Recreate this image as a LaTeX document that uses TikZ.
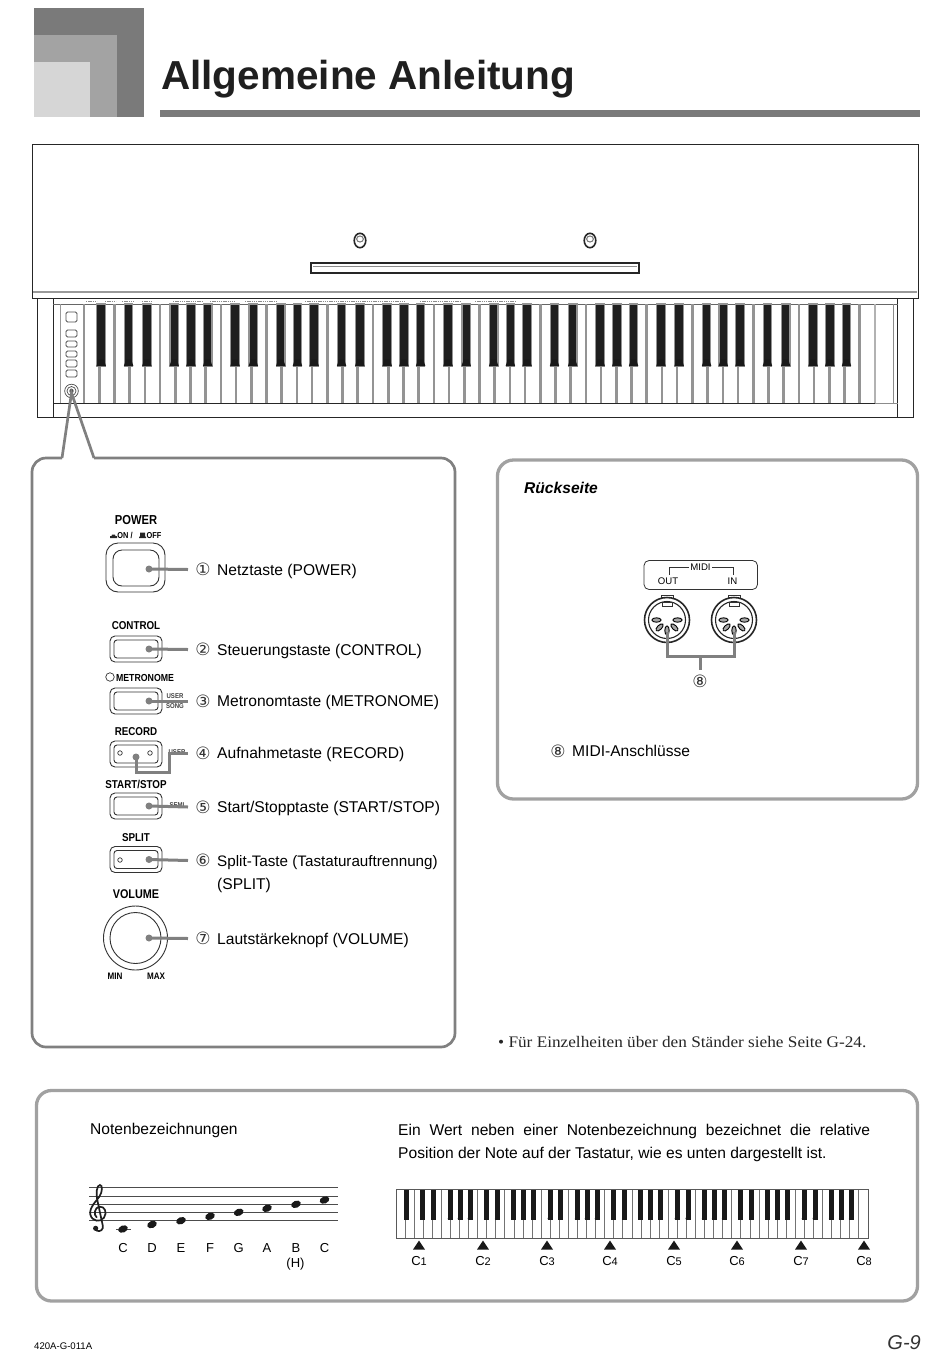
\documentclass[tikz,border=0pt]{standalone}
\usepackage{fontspec}
\setmainfont{Liberation Sans}
\newfontfamily\notefont[FakeStretch=1.07]{Liberation Serif}
\newfontfamily\symfont{DejaVu Sans}
\newfontfamily\panelfont[FakeStretch=0.86]{Liberation Sans Bold}
\definecolor{leadgray}{gray}{0.50}
\definecolor{framegray}{gray}{0.63}
\definecolor{keygray}{gray}{0.58}

\begin{document}
\begin{tikzpicture}[x=1pt, y=-1pt,
    plain/.style={inner sep=0pt, anchor=base west},
    itemtext/.style={plain, font=\fontsize{15.6}{18}\selectfont},
    bottomtext/.style={plain, font=\fontsize{15.6}{23}\selectfont},
    numeral/.style={inner sep=0pt, text=black!80, font=\symfont\fontsize{17}{18}\selectfont},
    panellabel/.style={inner sep=0pt, anchor=base, font=\panelfont\fontsize{#1}{12}\selectfont},
    panellabel/.default=12,
    notelabel/.style={inner sep=0pt, anchor=base, font=\fontsize{13}{15}\selectfont},
    outline/.style={line width=1pt, black!85},
    thinline/.style={line width=0.9pt, black!80},
    roundbox/.style={line width=3.3pt, framegray, rounded corners=15pt},
    leader/.style={line width=3pt, leadgray},
    leaddot/.style={circle, fill=leadgray, inner sep=0pt, minimum size=7pt},
    hole/.style={circle, draw=black!80, line width=0.7pt, fill=white, inner sep=0pt, minimum size=#1},
    whitekey/.style={line width=2.6pt, keygray},
    blackkey/.style={fill=black!88, draw=keygray, line width=1.1pt},
    keytip/.style={fill=black!90}]

  % The keys of a keyboard: #1 = x of the left edge, #2 = width of a white key, #3 = top,
  % #4 = end of the black keys, #5 = bottom, #6 = width of a black key.
  \newcommand{\pianokeys}[6]{%
    \foreach \i in {1,...,51}{
      \pgfmathtruncatemacro{\m}{mod(\i+5,7)}
      \pgfmathsetmacro{\xk}{#1+\i*#2}
      \pgfmathsetmacro{\xb}{\xk+{0,-1,2,0,-1,0.5,2}[\m]*#2/15.2}
      \ifnum\m=0 \draw[whitekey] (\xk,#3) -- (\xk,#5);
      \else\ifnum\m=3 \draw[whitekey] (\xk,#3) -- (\xk,#5);
      \else
        \draw[whitekey] (\xk,#4) -- (\xk,#5);
        \filldraw[blackkey] (\xb-#6/2,#3) rectangle (\xb+#6/2,#4);
        \fill[keytip] (\xb-#6*0.3,#4-#6*0.75) -- (\xb+#6*0.3,#4-#6*0.75) -- (\xb+#6*0.55,#4) -- (\xb-#6*0.55,#4) -- cycle;
      \fi\fi}}
  % A button of the panel with its inner outline: #1 = name, #2 = y of the center.
  \newcommand{\panelbutton}[2]{%
    \draw[thinline, rounded corners=5pt] (110,#2-13) rectangle (162,#2+13);
    \draw[thinline, rounded corners=3pt] (114,#2-9) rectangle (158,#2+9);
    \node[leaddot] (#1dot) at (149,#2) {};}
  % The numbered text of a control: #1 = name, #2 = y of the row, #3 = number, #4 = text.
  \newcommand{\panelitem}[4]{%
    \coordinate (#1end) at (188,#2);
    \node[numeral] (#1num) at (203,#2) {#3};
    \node[itemtext] (#1text) at (217,#2+5.6) {#4};}
  % A MIDI socket: #1 = x of its center.
  \newcommand{\midijack}[1]{%
    \draw[thinline] (#1-6,600) -- (#1-6,595) -- (#1+6,595) -- (#1+6,600);
    \draw[line width=1.6pt, black!85, fill=white] (#1,620) circle (22.5);
    \draw[line width=1.1pt, black!85] (#1,620) circle (18.5);
    \draw[thinline] (#1-5,602) rectangle (#1+5,606);
    \foreach \a in {0,45,90,135,180}{
      \filldraw[shift={(#1,620)}, shift={(\a:10.5)}, rotate=-\a, draw=black, fill=black!35, line width=0.9pt] (0,0) ellipse (4.6pt and 2.2pt);}}

  \useasboundingbox (0,0) rectangle (950,1358);
  % header
  \fill[black!52] (34,8) rectangle (144,117);
  \fill[black!36] (34,35) rectangle (117,117);
  \fill[black!16] (34,62) rectangle (90,117);
  \fill[black!52] (160,110) rectangle (920,117);
  \node[plain, font=\bfseries\fontsize{40.5}{46}\selectfont, text=black!88] (title) at (161,89) {Allgemeine Anleitung};

  % piano body
  \draw[outline] (37,298) -- (37,417) -- (913,417) -- (913,298);
  \draw[outline] (53,298) -- (53,417);
  \draw[outline] (897.5,298) -- (897.5,417);
  \draw[line width=0.7pt, black!60] (53,304) -- (897.5,304);
  \draw[outline] (53,403) -- (875,403);
  \draw[line width=0.8pt, black!45] (875,403) -- (897.5,403);
  \draw[whitekey] (84,304) -- (84,403);
  \draw[line width=2.6pt, black!30] (875,304) -- (875,403);
  \draw[line width=1pt, black!45] (893,304) -- (893,403);
  \draw[line width=0.6pt, black!40] (60,304) -- (60,403);
  \pianokeys{84}{15.21}{304}{366}{403}{8.6}
  \foreach \xa/\xb in {86/97,105/116,122/135,142/152,173/203,210/235,245/277,305/405,420/460,475/515}{
    \draw[line width=0.9pt, black!45, dash pattern=on 1.4pt off 0.8pt] (\xa,301.5) -- (\xb,301.5);}

  % lid with the shelf and the two knobs
  \draw[outline, fill=white] (32,144) rectangle (918,298.5);
  \draw[line width=1.3pt, black!40] (33,292) -- (917,292);
  \draw[line width=1.3pt, black!85] (311,263) rectangle (639,273);
  \draw[line width=0.9pt, black!45] (313,266) -- (637,266);
  \foreach \xa in {360,590}{
    \draw[line width=1.6pt, black!85] (\xa,240.5) ellipse (5.8pt and 7.2pt);
    \draw[line width=1pt, black!55] (\xa,239) ellipse (3.4pt and 3pt);}

  % small panel at the left of the keys
  \foreach \ya/\yb in {312/322,330/337,341/347,351/357,360/367,370/377}{
    \draw[line width=0.9pt, black!70, rounded corners=1.5pt] (66,\ya) rectangle (77,\yb);}
  \draw[line width=0.7pt, black!70] (71.5,391) circle (6.8) circle (4.5);
  \fill[black!70] (71.5,391) circle (2.2);

  % panel with the controls
  \coordinate (callouttip) at (71.5,393);
  \draw[line width=2.7pt, leadgray, rounded corners=14pt] (62,458) -- (32,458) -- (32,1047) -- (455,1047) -- (455,458) -- (94,458);
  \draw[line width=2.7pt, leadgray, line join=miter] (62,458) -- (callouttip) -- (94,458);

  \node[panellabel=13] (powerlabel) at (136,524) {POWER};
  \node[panellabel=8.6] (onlabel) at (125,538) {ON /};
  \node[panellabel=8.6] (offlabel) at (154,538) {OFF};
  \fill[black!85] (110,538) rectangle (117,536) (111.5,536) -- (115.5,536) -- (115,534.5) -- (112,534.5) -- cycle;
  \fill[black!85] (139,538) rectangle (146,536.5) (140,536.5) rectangle (145,532.5);
  \draw[thinline, rounded corners=12pt] (106,543) rectangle (165,592);
  \draw[thinline, rounded corners=9pt] (113,550) rectangle (159,586);
  \node[leaddot] (powerdot) at (149,569) {};
  \panelitem{power}{569.5}{①}{Netztaste (POWER)}
  \draw[leader] (powerdot.center) -- (powerend);

  \node[panellabel=11.4] (controllabel) at (136,629) {CONTROL};
  \panelbutton{control}{649}
  \panelitem{control}{649.5}{②}{Steuerungstaste (CONTROL)}
  \draw[leader] (controldot.center) -- (controlend);

  \node[panellabel=10.2] (metronomelabel) at (145,681) {METRONOME};
  \node[hole=8.5pt] (metronomelamp) at (110,677) {};
  \panelbutton{metronome}{701}
  \node[panellabel=7, text=black!75] (usersong) at (175,698.5) {USER};
  \node[panellabel=7, text=black!75] (songlabel) at (175,708) {SONG};
  \panelitem{metronome}{701}{③}{Metronomtaste (METRONOME)}
  \draw[leader] (metronomedot.center) -- (metronomeend);

  \node[panellabel=11.4] (recordlabel) at (136,735) {RECORD};
  \draw[thinline, rounded corners=5pt] (110,741) rectangle (162,767);
  \draw[thinline, rounded corners=3pt] (114,745) rectangle (158,763);
  \node[hole=4.5pt] (recordleft) at (120,753) {};
  \node[hole=4.5pt] (recordright) at (150,753) {};
  \node[leaddot] (recorddot) at (136,757) {};
  \node[panellabel=7, text=black!75] (recorduser) at (177,754) {USER};
  \panelitem{record}{753}{④}{Aufnahmetaste (RECORD)}
  \coordinate (recordbend) at (169,772);
  \draw[leader] (recorddot.center) |- (recordbend) |- (recordend);

  \node[panellabel=11.4] (startlabel) at (136,788) {START/STOP};
  \panelbutton{start}{806}
  \node[panellabel=7, text=black!75] (startsemi) at (177,807) {SEMI};
  \panelitem{start}{807}{⑤}{Start/Stopptaste (START/STOP)}
  \draw[leader] (startdot.center) -- (startend);

  \node[panellabel=11.4] (splitlabel) at (136,841) {SPLIT};
  \panelbutton{split}{859.5}
  \node[hole=4.5pt] (splitlamp) at (120,860) {};
  \panelitem{split}{860.5}{⑥}{\fontsize{15.2}{18}\selectfont Split-Taste (Tastaturauftrennung)}
  \node[itemtext] (splittext) at (217,889.5) {(SPLIT)};
  \draw[leader] (splitdot.center) -- (splitend);

  \node[panellabel=12.6] (volumelabel) at (136,898) {VOLUME};
  \draw[thinline] (135.5,938) circle (32);
  \draw[thinline] (135.5,938) circle (25.5);
  \node[leaddot] (volumedot) at (149,938) {};
  \node[panellabel=9.4] (minlabel) at (115,979) {MIN};
  \node[panellabel=9.4] (maxlabel) at (156,979) {MAX};
  \panelitem{volume}{938.5}{⑦}{Lautstärkeknopf (VOLUME)}
  \draw[leader] (volumedot.center) -- (volumeend);

  % rear side
  \draw[roundbox, rounded corners=16pt] (497.5,460) rectangle (917.5,799);
  \node[plain, font=\bfseries\itshape\fontsize{15.6}{18}\selectfont] (reartitle) at (524,493.5) {Rückseite};
  \draw[line width=0.8pt, black!80, rounded corners=5pt] (644,560.5) rectangle (757.5,589.5);
  \node[inner sep=1.5pt, font=\fontsize{9.6}{11}\selectfont] (midilabel) at (700.5,567.5) {MIDI};
  \node[inner sep=0pt, font=\fontsize{9.6}{11}\selectfont] (outlabel) at (668,581) {OUT};
  \node[inner sep=0pt, font=\fontsize{9.6}{11}\selectfont] (inlabel) at (732.5,581) {IN};
  \coordinate (outtick) at (669,575);
  \coordinate (intick) at (733,575);
  \draw[line width=0.8pt, black!80] (outtick) |- (midilabel.west);
  \draw[line width=0.8pt, black!80] (intick) |- (midilabel.east);
  \midijack{667}
  \midijack{734}
  \node[numeral] (jacknum) at (700,681) {⑧};
  \coordinate (jackleft) at (667,632);
  \coordinate (jackright) at (734,632);
  \coordinate (jackjoin) at (700,656);
  \draw[leader, line join=miter] (jackleft) |- (jackright |- jackjoin) -- (jackright);
  \draw[leader] (jackjoin) -- (700,670);
  \node[numeral] (midinum) at (558,751) {⑧};
  \node[itemtext] (miditext) at (572,756.6) {MIDI-Anschlüsse};

  \node[plain, font=\notefont\fontsize{16.1}{18}\selectfont, text=black!85] (standnote) at (498,1047) {• Für Einzelheiten über den Ständer siehe Seite G-24.};

  % names of the notes
  \draw[roundbox] (36.5,1090.5) rectangle (917.5,1301);
  \node[bottomtext] (notestitle) at (90,1134.5) {Notenbezeichnungen};
  \node[bottomtext, anchor=north west, text width=472pt, align=justify] (explain) at (398,1123.5)
    {Ein Wert neben einer Notenbezeichnung bezeichnet die relative \hbox{Position} der Note auf der Tastatur, wie es unten dargestellt ist.};
  \foreach \ya in {1187.3,1196,1204.3,1212.3,1220.7}{
    \draw[line width=0.8pt, black!70] (89,\ya) -- (338,\ya);}
  % treble clef, traced in units of a third of a pixel
  \begin{scope}[shift={(80,1170)}, x=0.3333pt, y=-0.3333pt]
    \draw[line width=1.7pt, black!88, line cap=round] (50,142) .. controls (40,135) and (44,112) .. (58,110)
      .. controls (75,108) and (82,128) .. (72,143) .. controls (62,158) and (35,155) .. (31,133)
      .. controls (28,110) and (48,95) .. (58,80) .. controls (68,65) and (68,45) .. (60,45)
      .. controls (50,45) and (47,70) .. (53,95) -- (68,165)
      .. controls (72,180) and (60,186) .. (50,182);
    \fill[black!88] (47,175) circle (2.6pt);
  \end{scope}
  \draw[line width=0.8pt, black!70] (116,1229) -- (131,1229);
  \foreach \xa/\ya/\nm/\nt in {123/1229/c/C,152/1224.5/d/D,181/1220.7/e/E,210/1216.3/f/F,238.7/1212.3/g/G,267/1208.3/a/A,296/1204.3/b/B,324.5/1200/h/C}{
    \fill[shift={(\xa,\ya)}, rotate=22, black!90] (0,0) ellipse (5pt and 3.5pt);
    \node[notelabel] (name\nm) at (\xa,1252.5) {\nt};}
  \node[notelabel] (bracketh) at (295.5,1267.5) {(H)};

  % small keyboard
  \begin{scope}[whitekey/.style={line width=0.9pt, black!55},
      blackkey/.style={fill=black!90, draw=black!90, line width=0.3pt}]
    \pianokeys{396}{9.077}{1189}{1219}{1238}{4}
  \end{scope}
  \draw[line width=0.9pt, black!65] (396,1189) rectangle (868,1238);
  \foreach \xa/\nt in {419/1,483/2,547/3,610/4,674/5,737/6,801/7,864/8}{
    \fill[black!90] (\xa-6,1249.5) -- (\xa,1240.5) -- (\xa+6,1249.5) -- cycle;
    \node[notelabel] (octave\nt) at (\xa,1265) {C{\fontsize{11}{13}\selectfont\nt}};}

  \node[plain, font=\fontsize{9.6}{11}\selectfont] (partcode) at (34,1349) {420A-G-011A};
  \node[inner sep=0pt, anchor=base east, font=\itshape\fontsize{20}{22}\selectfont, text=black!80] (pagenum) at (921,1349) {G-9};
\end{tikzpicture}
\end{document}
